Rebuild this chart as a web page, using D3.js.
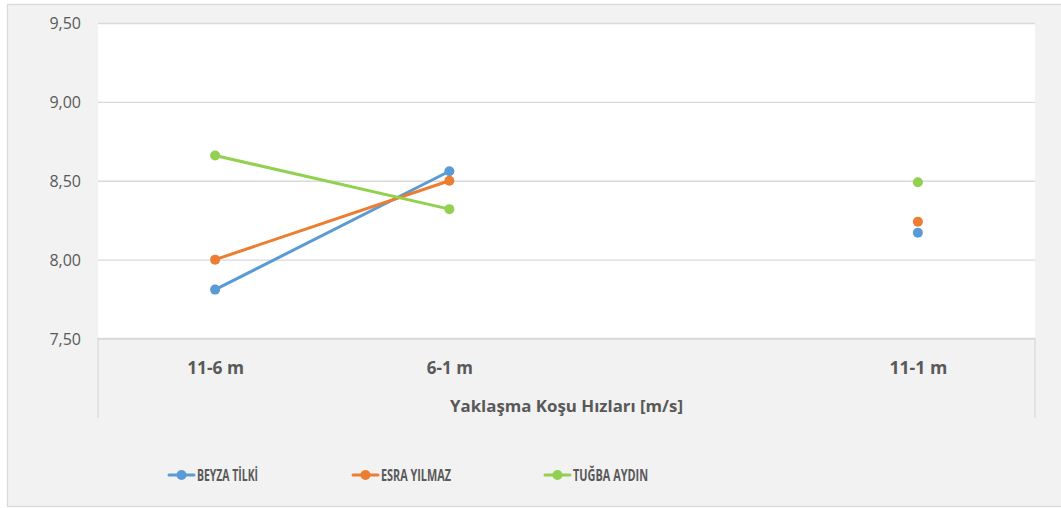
<!DOCTYPE html>
<html><head><meta charset="utf-8">
<script src="https://cdn.jsdelivr.net/npm/d3@7"></script>
<style>html,body{margin:0;padding:0;background:#fff;}svg{display:block;}</style>
</head><body>
<svg id="chart" width="1061" height="508"></svg>
<script>
const categories = ["11-6 m", "6-1 m", "", "11-1 m"];
const seriesNames = ["BEYZA TİLKİ", "ESRA YILMAZ", "TUĞBA AYDIN"];
const beyza = [7.81, 8.56, null, 8.17];
const esra  = [8.00, 8.50, null, 8.24];
const tugba = [8.66, 8.32, null, 8.49];
const yTicks = [7.5, 8.0, 8.5, 9.0, 9.5];
const colors = ["#5b9bd5", "#ed7d31", "#92d050"];
const xTitle = "Yaklaşma Koşu Hızları [m/s]";

const series = [beyza, esra, tugba];
const svg = d3.select("#chart");
const W = 1061, H = 508;
const L = 98, R = 1035, T = 23, B = 338.5;

svg.append("rect").attr("x", 7.5).attr("y", 4.5).attr("width", W).attr("height", 502)
  .attr("fill", "#f2f2f2").attr("stroke", "#d9d9d9").attr("stroke-width", 1.3);

const x = d3.scalePoint().domain(d3.range(categories.length)).range([L, R]).padding(0.5);
const y = d3.scaleLinear().domain([7.5, 9.5]).range([B, T]);

svg.append("rect").attr("x", L).attr("y", T).attr("width", R - L).attr("height", B - T).attr("fill", "#fff");

svg.append("path").attr("d", `M${L},418V${B}H${R}V418`).attr("fill", "none")
  .attr("stroke", "#d9d9d9").attr("stroke-width", 1.3);

function fit(sel, w) {
  sel.each(function (d, i) {
    const target = typeof w === "function" ? w(d, i) : w;
    const len = this.getComputedTextLength();
    if (len > 0 && Math.abs(len - target) > 1) {
      d3.select(this).attr("textLength", target).attr("lengthAdjust", "spacingAndGlyphs");
    }
  });
}

const yAxis = d3.axisLeft(y).tickValues(yTicks).tickSize(-(R - L)).tickPadding(17)
  .tickFormat(d => d3.format(".2f")(d).replace(".", ","));
const gy = svg.append("g").attr("transform", `translate(${L},0)`).call(yAxis);
gy.select(".domain").remove();
gy.selectAll(".tick line").attr("stroke", "#d9d9d9").attr("stroke-width", 1.3);
gy.selectAll(".tick text").attr("fill", "#595959").attr("dy", "0.35em").style("font-family", "Open Sans, sans-serif")
  .style("font-size", "16px").call(fit, 32);

const xTickW = [57, 47, 0, 58];
const xAxis = d3.axisBottom(x).tickSize(0).tickFormat(i => categories[i]);
const gx = svg.append("g").attr("transform", `translate(0,${B})`).call(xAxis);
gx.select(".domain").remove();
gx.selectAll(".tick text").attr("fill", "#595959").attr("dy", 0).attr("y", 35)
  .style("font-family", "Open Sans, sans-serif").style("font-size", "17px").style("font-weight", "bold")
  .call(fit, d => xTickW[d]);

svg.append("text").attr("x", (L + R) / 2).attr("y", 412).attr("text-anchor", "middle")
  .attr("fill", "#595959").style("font-family", "Open Sans, sans-serif").style("font-size", "16.5px")
  .style("font-weight", "bold").text(xTitle).call(fit, 233);

const line = d3.line().defined(d => d != null).x((d, i) => x(i)).y(d => y(d));
series.forEach((s, k) => {
  svg.append("path").datum(s).attr("d", line).attr("fill", "none")
    .attr("stroke", colors[k]).attr("stroke-width", 3).attr("stroke-linecap", "round");
  svg.append("g").selectAll("circle").data(s.map((v, i) => ({ v, i })).filter(d => d.v != null))
    .join("circle").attr("cx", d => x(d.i)).attr("cy", d => y(d.v)).attr("r", 5).attr("fill", colors[k]);
});

const legX = [169, 353, 545];
const legW = [61, 70, 75];
const ly = 475;
seriesNames.forEach((n, k) => {
  const g = svg.append("g");
  g.append("line").attr("x1", legX[k]).attr("x2", legX[k] + 25).attr("y1", ly).attr("y2", ly)
    .attr("stroke", colors[k]).attr("stroke-width", 3).attr("stroke-linecap", "round");
  g.append("circle").attr("cx", legX[k] + 12.5).attr("cy", ly).attr("r", 5).attr("fill", colors[k]);
  g.append("text").attr("x", legX[k] + 28).attr("y", ly + 6).attr("fill", "#595959")
    .style("font-family", "Open Sans, sans-serif").style("font-size", "16px").style("font-weight", "bold")
    .text(n).call(fit, legW[k]);
});
</script>
</body></html>
